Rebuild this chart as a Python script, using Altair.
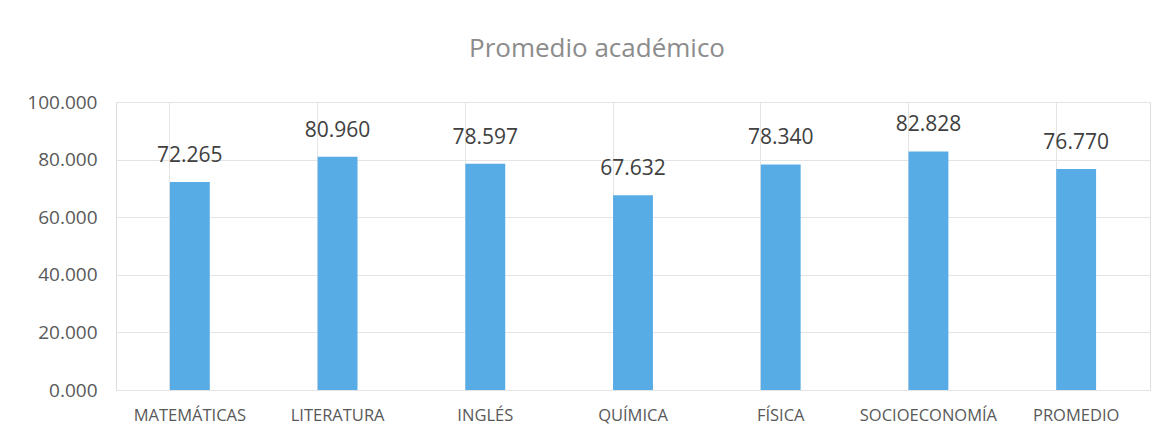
import altair as alt
import pandas as pd

categories = ["MATEMÁTICAS", "LITERATURA", "INGLÉS", "QUÍMICA", "FÍSICA", "SOCIOECONOMÍA", "PROMEDIO"]
values = [72.265, 80.960, 78.597, 67.632, 78.340, 82.828, 76.770]
y_ticks = [0, 20, 40, 60, 80, 100]

df = pd.DataFrame({"cat": categories, "val": values})

FONT = "Open Sans"

x = alt.X("cat:N", sort=categories, title=None,
          scale=alt.Scale(paddingInner=0.73, paddingOuter=0.365),
          axis=alt.Axis(labelAngle=0, labelFontSize=16.5, labelColor="#595959", labelFont=FONT,
                        labelPadding=17, ticks=False, domain=False, grid=True, bandPosition=0,
                        gridColor="#e4e4e4", gridWidth=1))
y = alt.Y("val:Q", title=None,
          scale=alt.Scale(domain=[0, 100], nice=False),
          axis=alt.Axis(values=y_ticks, format=".3f", labelFontSize=19, labelColor="#595959",
                        labelFont=FONT, labelPadding=19, ticks=False, domain=False,
                        gridColor="#e4e4e4", gridWidth=1))

bars = alt.Chart(df).mark_bar(color="#58ACE6").encode(x=x, y=y)
labels = alt.Chart(df).mark_text(fontSize=21, font=FONT, color="#404040", baseline="alphabetic", dy=-20).encode(
    x=alt.X("cat:N", sort=categories), y="val:Q", text=alt.Text("val:Q", format=".3f"))

chart = (bars + labels).properties(
    width=1034, height=288,
    padding={"left": 108, "top": 94, "right": 11, "bottom": 41},
    autosize=alt.AutoSizeParams(type="none"),
    title=alt.Title("Promedio académico", fontSize=26, font=FONT, fontWeight="normal",
                    color="#8c8c8c", anchor="middle", dx=-36, offset=31),
).configure_view(stroke="#e4e4e4", strokeWidth=1).configure(background="white")

chart.save("out.html", embed_options={"renderer": "svg", "actions": False})
